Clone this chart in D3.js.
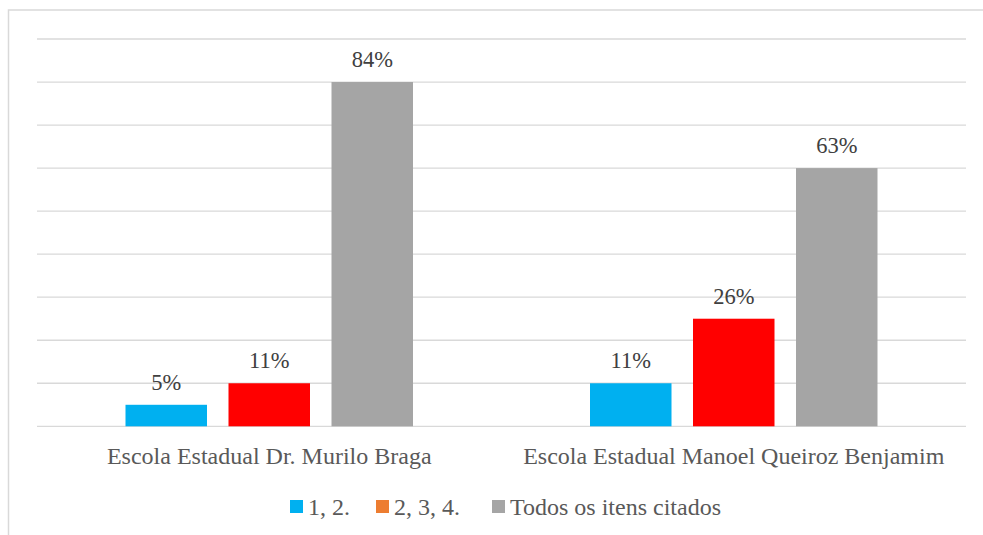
<!DOCTYPE html>
<html>
<head>
<meta charset="utf-8">
<script src="https://cdn.jsdelivr.net/npm/d3@7"></script>
<style>
body { margin: 0; background: #fff; }
svg { display: block; }
</style>
</head>
<body>
<svg id="chart" width="983" height="535"></svg>
<script>
// categories and series
var categories = ["Escola Estadual Dr. Murilo Braga", "Escola Estadual Manoel Queiroz Benjamim"];
var series = ["1, 2.", "2, 3, 4.", "Todos os itens citados"];
// bar heights as drawn (axis 0-90)
var serie1 = [5, 10];
var serie2 = [10, 25];
var serie3 = [80, 60];
// data labels as printed on the chart
var labels1 = ["5%", "11%"];
var labels2 = ["11%", "26%"];
var labels3 = ["84%", "63%"];
var yTicks = [0, 10, 20, 30, 40, 50, 60, 70, 80, 90];

var barColors = ["#00B0F0", "#FF0000", "#A5A5A5"];
var legendColors = ["#00B0F0", "#ED7D31", "#A5A5A5"];
var fontFam = "'Liberation Serif', 'Times New Roman', Times, serif";

var svg = d3.select("#chart");
var plotLeft = 37, plotRight = 966, plotTop = 39, plotBottom = 426.3;

// frame (only top and left edges visible)
svg.append("rect")
    .attr("x", 8.5).attr("y", 10)
    .attr("width", 1200).attr("height", 800)
    .attr("fill", "none")
    .attr("stroke", "#d9d9d9")
    .attr("stroke-width", 1.5);

var x0 = d3.scaleBand().domain(categories).range([plotLeft, plotRight]).padding(0);
var y = d3.scaleLinear().domain([0, 90]).range([plotBottom, plotTop]);

// gridlines
svg.append("g").selectAll("line")
    .data(yTicks)
    .enter().append("line")
    .attr("x1", plotLeft).attr("x2", plotRight)
    .attr("y1", function(d) { return y(d); })
    .attr("y2", function(d) { return y(d); })
    .attr("stroke", "#d9d9d9")
    .attr("stroke-width", 1.3);

var step = 103, barW = 81.5;
var rows = [];
categories.forEach(function(c, i) {
    rows.push({cat: c, s: 0, v: serie1[i], label: labels1[i]});
    rows.push({cat: c, s: 1, v: serie2[i], label: labels2[i]});
    rows.push({cat: c, s: 2, v: serie3[i], label: labels3[i]});
});
var bx = function(d) {
    return x0(d.cat) + x0.bandwidth() / 2 + (d.s - 1) * step - barW / 2;
};

var g = svg.append("g");
g.selectAll("rect")
    .data(rows)
    .enter().append("rect")
    .attr("x", bx)
    .attr("y", function(d) { return y(d.v); })
    .attr("width", barW)
    .attr("height", function(d) { return plotBottom - y(d.v); })
    .attr("fill", function(d) { return barColors[d.s]; });

g.selectAll("text")
    .data(rows)
    .enter().append("text")
    .attr("x", function(d) { return bx(d) + barW / 2; })
    .attr("y", function(d) { return y(d.v) - 15; })
    .attr("text-anchor", "middle")
    .style("font-family", fontFam)
    .style("font-size", "22.5px")
    .attr("fill", "#404040")
    .text(function(d) { return d.label; });

// category labels
svg.append("g").selectAll("text")
    .data(categories)
    .enter().append("text")
    .attr("x", function(d) { return x0(d) + x0.bandwidth() / 2; })
    .attr("y", 464)
    .attr("text-anchor", "middle")
    .style("font-family", fontFam)
    .style("font-size", "24px")
    .attr("fill", "#595959")
    .text(function(d) { return d; });

// legend
var legX = [290, 376, 492];
var leg = svg.append("g").selectAll("g")
    .data(series)
    .enter().append("g")
    .attr("transform", function(d, i) { return "translate(" + legX[i] + ",500)"; });
leg.append("rect")
    .attr("width", 13).attr("height", 13)
    .attr("fill", function(d, i) { return legendColors[i]; });
leg.append("text")
    .attr("x", 18).attr("y", 14.5)
    .style("font-family", fontFam)
    .style("font-size", "24px")
    .attr("fill", "#595959")
    .text(function(d) { return d; });
</script>
</body>
</html>
